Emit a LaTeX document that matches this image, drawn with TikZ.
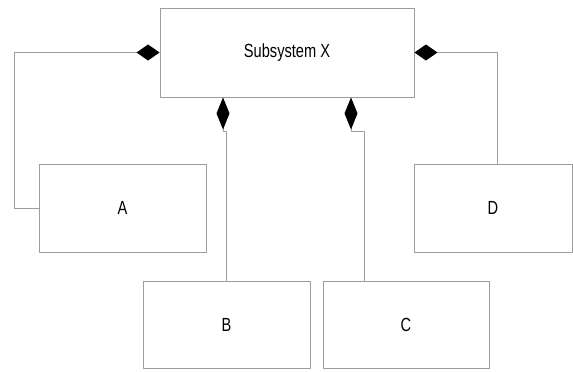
\documentclass[tikz,border=0pt]{standalone}
\usepackage{fontspec}
\usetikzlibrary{arrows.meta}
\newfontfamily\boxfont{Liberation Sans}[FakeStretch=0.77]
\definecolor{linegray}{HTML}{9C9C9C}
\begin{document}
\begin{tikzpicture}[x=1pt, y=-1pt, line cap=round, line join=round, font=\boxfont\fontsize{19}{22}\selectfont]
	\tikzset{part/.style={draw=linegray, line width=0.9pt, inner sep=0pt},
		hside/.style={draw=linegray, line width=0.9pt, -{Diamond[length=23pt, width=16pt, color=black, fill=black]}},
		vside/.style={draw=linegray, line width=0.9pt, -{Diamond[length=32pt, width=13pt, color=black, fill=black]}}}
	\useasboundingbox (0,0) rectangle (573,372);
	\node[part, minimum width=254pt, minimum height=89pt] (sub) at (287,52.5) {Subsystem X};
	\node[part, minimum width=167pt, minimum height=88pt] (a) at (122.5,208) {A};
	\node[part, minimum width=167pt, minimum height=87pt] (b) at (226.5,324.5) {B};
	\node[part, minimum width=166pt, minimum height=87pt] (c) at (406,324.5) {C};
	\node[part, minimum width=158pt, minimum height=88pt] (d) at (493,208) {D};
	% composition links into the subsystem
	\draw[hside] (a.west) -- (14,208) -- (14,52.5) -- (sub.west);
	\draw[hside] (d.north -| 497,0) -- (497,52.5) -- (sub.east);
	\draw[vside] (b.north) -- (226.5,131) -- (223,131) -- (sub.south -| 223,0);
	\draw[vside] (c.north -| 364,0) -- (364,131) -- (351,131) -- (sub.south -| 351,0);
\end{tikzpicture}
\end{document}
